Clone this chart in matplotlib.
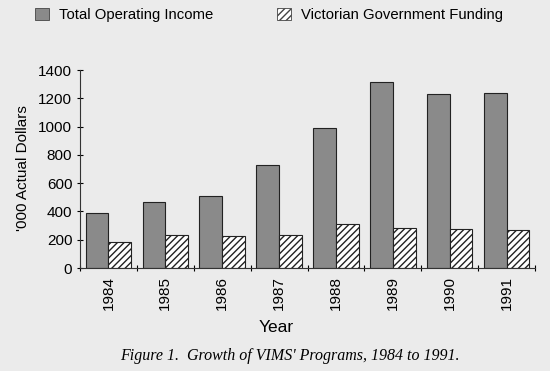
import numpy as np
import matplotlib
matplotlib.use('Agg')
import matplotlib.pyplot as plt
from matplotlib.patches import Patch

years = ['1984', '1985', '1986', '1987', '1988', '1989', '1990', '1991']
total_income = [390, 470, 512, 725, 993, 1315, 1230, 1240]
vic_funding = [181, 234, 229, 234, 314, 281, 278, 266]

plt.rcParams['font.family'] = ['Liberation Sans', 'DejaVu Sans']
plt.rcParams['hatch.linewidth'] = 1.0

bg = '#ebebeb'
fig = plt.figure(figsize=(5.5, 3.71), dpi=100, facecolor=bg)
ax = fig.add_axes([80 / 550, 1 - 268 / 371, 455 / 550, 198 / 371])
ax.set_facecolor(bg)

x = np.arange(len(years))
w = 0.4
ax.bar(x - w / 2, total_income, w, color='#8a8a8a', edgecolor='#222222', linewidth=0.8)
ax.bar(x + w / 2, vic_funding, w, color='white', edgecolor='#222222', hatch='/////', linewidth=0.8)

ax.set_xlim(-0.5, len(years) - 0.5)
ax.set_ylim(0, 1400)
ax.set_yticks(range(0, 1401, 200))
ax.set_xticks(x)
ax.set_xticklabels(years, rotation=90, fontsize=11)
ax.tick_params(axis='x', length=0, pad=6)
ax.set_xticks(np.arange(-0.5, len(years)), minor=True)
ax.tick_params(axis='x', which='minor', length=5, direction='inout', width=0.8)
ax.tick_params(axis='y', labelsize=11, length=4, width=0.8, direction='inout')
for s in ['top', 'right']:
    ax.spines[s].set_visible(False)
for s in ['left', 'bottom']:
    ax.spines[s].set_linewidth(0.8)
    ax.spines[s].set_color('#333333')

# axis titles placed where the scan has them (Year sits left of centre)
fig.text(276 / 550, 1 - 327 / 371, 'Year', ha='center', va='center', fontsize=12.5)
fig.text(23 / 550, 1 - 168 / 371, "'000 Actual Dollars", ha='center', va='center',
         rotation=90, fontsize=11)

handles = [Patch(facecolor='#8a8a8a', edgecolor='#444444', linewidth=0.6),
           Patch(facecolor='white', edgecolor='#444444', hatch='/////', linewidth=0.6)]
fig.legend(handles, ['Total Operating Income', 'Victorian Government Funding'],
           loc='upper left', bbox_to_anchor=(22 / 550, 1.015), ncol=2, frameon=False,
           fontsize=10.7, handlelength=0.9, handleheight=0.9, handletextpad=0.7,
           columnspacing=4.3)

fig.text(290 / 550, 1 - 356 / 371, "Figure 1.  Growth of VIMS' Programs, 1984 to 1991.",
         ha='center', va='center', fontsize=11.5, style='italic',
         family=['Liberation Serif', 'DejaVu Serif'])

fig.savefig('out.png', dpi=100, facecolor=bg)
